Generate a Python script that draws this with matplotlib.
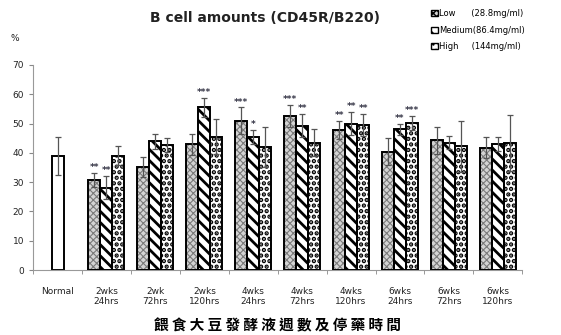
import numpy as np
import matplotlib.pyplot as plt
from matplotlib.patches import Patch

plt.rcParams['font.family'] = ['DejaVu Sans']

groups = ['Normal', '2wks\n24hrs', '2wk\n72hrs', '2wks\n120hrs', '4wks\n24hrs',
          '4wks\n72hrs', '4wks\n120hrs', '6wks\n24hrs', '6wks\n72hrs', '6wks\n120hrs']
normal_val, normal_err = 39.0, 6.5

low = [30.7, 35.3, 43.0, 51.0, 52.6, 47.8, 40.4, 44.3, 41.7]
low_err = [2.3, 3.4, 3.6, 4.5, 3.7, 3.2, 4.6, 4.6, 3.6]
medium = [28.1, 44.0, 55.5, 45.4, 49.3, 50.0, 48.0, 43.5, 43.0]
medium_err = [4.0, 2.6, 3.4, 2.5, 3.9, 4.0, 1.8, 2.2, 2.5]
high = [39.0, 42.7, 45.5, 41.9, 43.5, 49.4, 50.3, 42.3, 43.3]
high_err = [3.2, 2.3, 6.0, 6.8, 4.5, 3.8, 2.4, 8.7, 9.6]

low_marks = ['**', '', '', '***', '***', '**', '', '', '']
medium_marks = ['**', '', '***', '*', '**', '**', '**', '', '']
high_marks = ['', '', '', '', '', '**', '***', '', '']

# fill style per series: (facecolor, hatch colour, hatch, hatch linewidth)
styles = {
    'low': ('#d4d4d4', '#7a7a7a', 'xxxxx', 0.8),
    'medium': ('white', 'black', '\\\\\\', 2.0),
    'high': ('white', 'black', '...', 2.2),
}

fig = plt.figure(figsize=(5.61, 3.35), dpi=100)
ax = fig.add_axes([0.059, 0.194, 0.872, 0.612])

w = 0.245
x = np.arange(1, len(groups))
err_kw = dict(ecolor='#555555', elinewidth=0.9, capsize=2.5, capthick=0.9)


def hatched_bars(xs, vals, errs, key):
    face, hcol, hatch, hlw = styles[key]
    with plt.rc_context({'hatch.linewidth': hlw}):
        ax.bar(xs, vals, w, color=face, edgecolor=hcol, hatch=hatch,
               linewidth=0, zorder=2)
    ax.bar(xs, vals, w, yerr=errs, fill=False, edgecolor='black',
           linewidth=1.4, error_kw=err_kw, zorder=3)


ax.bar(0, normal_val, w, yerr=normal_err, color='white', edgecolor='black',
       linewidth=1.4, error_kw=err_kw, zorder=2)
hatched_bars(x - w, low, low_err, 'low')
hatched_bars(x, medium, medium_err, 'medium')
hatched_bars(x + w, high, high_err, 'high')

for off, vals, errs, marks in [(-w, low, low_err, low_marks),
                               (0, medium, medium_err, medium_marks),
                               (w, high, high_err, high_marks)]:
    for xi, v, e, m in zip(x, vals, errs, marks):
        if m:
            ax.text(xi + off, v + e + 0.3, m, ha='center', va='bottom',
                    fontsize=6.5, color='#333344', fontweight='bold')

ax.set_xlim(-0.5, len(groups) - 0.5)
ax.set_ylim(0, 70)
ax.set_yticks(range(0, 71, 10))
ax.set_xticks(np.arange(len(groups)))
ax.set_xticklabels(groups, fontsize=6.5, color='#222222')
ax.set_xticks(np.arange(len(groups) + 1) - 0.5, minor=True)
ax.tick_params(axis='x', which='major', length=0, pad=12)
ax.tick_params(axis='x', which='minor', length=3, color='#888888')
ax.tick_params(axis='y', labelsize=6.5, length=3, color='#888888',
               labelcolor='#222222')
for s in ['top', 'right']:
    ax.spines[s].set_visible(False)
for s in ['left', 'bottom']:
    ax.spines[s].set_color('#999999')
    ax.spines[s].set_linewidth(0.8)

fig.text(0.472, 0.945, 'B cell amounts (CD45R/B220)', ha='center', va='center',
         fontsize=10, fontweight='bold', color='#222222')
fig.text(0.027, 0.885, '%', ha='center', va='center', fontsize=6.5,
         color='#222222')
fig.text(0.495, 0.03, '餵 食 大 豆 發 酵 液 週 數 及 停 藥 時 間', ha='center',
         va='center', fontsize=10.5, fontweight='bold',
         family=['Noto Sans CJK TC'])

handles = []
for key in ['low', 'medium', 'high']:
    face, hcol, hatch, hlw = styles[key]
    handles.append(Patch(facecolor=face, edgecolor='black', hatch=hatch))
labels = ['Low      (28.8mg/ml)', 'Medium(86.4mg/ml)', 'High     (144mg/ml)']
fig.legend(handles, labels, loc='upper left', bbox_to_anchor=(0.755, 0.995),
           frameon=False, fontsize=6, handlelength=0.8, handleheight=0.8,
           handletextpad=0.2, labelspacing=0.9)

fig.savefig('out.png', dpi=100)
